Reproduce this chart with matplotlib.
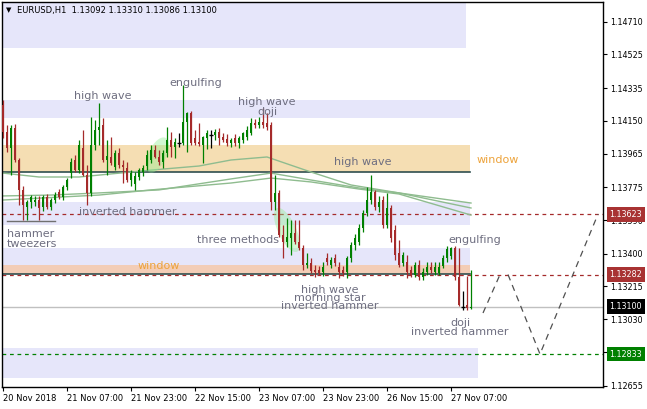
import numpy as np
import matplotlib.pyplot as plt
import matplotlib.transforms as mtransforms
from matplotlib.patches import Polygon

# --- candles (EURUSD H1) ---
opens = [1.14240, 1.14087, 1.13997, 1.14110, 1.13929, 1.13760, 1.13663, 1.13692, 1.13692, 1.13703,
         1.13663, 1.13720, 1.13663, 1.13703, 1.13748, 1.13720, 1.13776, 1.13855, 1.13929, 1.13872,
         1.13997, 1.13844, 1.13743, 1.14014, 1.14098, 1.14127, 1.13929, 1.13946, 1.13889, 1.13968,
         1.13901, 1.13884, 1.13816, 1.13793, 1.13833, 1.13861, 1.13895, 1.13929, 1.13985, 1.13946,
         1.13918, 1.13968, 1.14042, 1.14002, 1.14025, 1.14025, 1.14144, 1.14194, 1.14053, 1.14031,
         1.14014, 1.14053, 1.14070, 1.14070, 1.14087, 1.14059, 1.14048, 1.14025, 1.14053, 1.14025,
         1.14042, 1.14059, 1.14081, 1.14138, 1.14127, 1.14144, 1.14138, 1.14127, 1.13692, 1.13743,
         1.13505, 1.13466, 1.13488, 1.13517, 1.13466, 1.13432, 1.13336, 1.13347, 1.13308, 1.13308,
         1.13296, 1.13376, 1.13336, 1.13376, 1.13325, 1.13308, 1.13296, 1.13376, 1.13449, 1.13466,
         1.13545, 1.13630, 1.13703, 1.13748, 1.13663, 1.13703, 1.13562, 1.13658, 1.13534, 1.13404,
         1.13347, 1.13353, 1.13308, 1.13280, 1.13336, 1.13268, 1.13296, 1.13325, 1.13296, 1.13291,
         1.13330, 1.13376, 1.13387, 1.13432, 1.13268, 1.13099, 1.13110, 1.13092]
highs = [1.14268, 1.14127, 1.14127, 1.14132, 1.13940, 1.13782, 1.13703, 1.13731, 1.13726, 1.13726,
         1.13731, 1.13737, 1.13714, 1.13748, 1.13765, 1.13788, 1.13827, 1.13940, 1.13957, 1.14042,
         1.14098, 1.13901, 1.14172, 1.14155, 1.14251, 1.14166, 1.14042, 1.14059, 1.13985, 1.13997,
         1.13929, 1.13918, 1.13872, 1.13861, 1.13884, 1.13901, 1.13985, 1.14014, 1.14014, 1.13985,
         1.13985, 1.14115, 1.14087, 1.14053, 1.14081, 1.14353, 1.14200, 1.14206, 1.14098, 1.14138,
         1.14065, 1.14098, 1.14098, 1.14104, 1.14110, 1.14081, 1.14076, 1.14053, 1.14076, 1.14065,
         1.14087, 1.14121, 1.14166, 1.14161, 1.14172, 1.14223, 1.14194, 1.14144, 1.13844, 1.13760,
         1.13562, 1.13602, 1.13590, 1.13590, 1.13590, 1.13449, 1.13404, 1.13376, 1.13336, 1.13330,
         1.13353, 1.13404, 1.13381, 1.13398, 1.13353, 1.13330, 1.13387, 1.13466, 1.13511, 1.13568,
         1.13647, 1.13776, 1.13844, 1.13760, 1.13726, 1.13726, 1.13743, 1.13675, 1.13562, 1.13477,
         1.13409, 1.13393, 1.13330, 1.13353, 1.13364, 1.13319, 1.13353, 1.13353, 1.13353, 1.13353,
         1.13393, 1.13443, 1.13438, 1.13443, 1.13432, 1.13189, 1.13274, 1.13310]
lows = [1.14053, 1.13974, 1.13844, 1.13918, 1.13675, 1.13590, 1.13590, 1.13658, 1.13669, 1.13590,
        1.13641, 1.13652, 1.13647, 1.13686, 1.13709, 1.13703, 1.13760, 1.13827, 1.13861, 1.13855,
        1.13839, 1.13675, 1.13726, 1.13985, 1.14014, 1.13918, 1.13844, 1.13901, 1.13872, 1.13884,
        1.13799, 1.13805, 1.13782, 1.13760, 1.13816, 1.13839, 1.13872, 1.13912, 1.13940, 1.13901,
        1.13884, 1.13946, 1.13946, 1.13940, 1.14002, 1.14014, 1.13974, 1.14014, 1.14014, 1.14008,
        1.13912, 1.13991, 1.13997, 1.14042, 1.14014, 1.14031, 1.14008, 1.14002, 1.14008, 1.13997,
        1.14025, 1.14042, 1.14070, 1.14110, 1.14110, 1.14110, 1.14098, 1.13647, 1.13647, 1.13494,
        1.13376, 1.13438, 1.13393, 1.13455, 1.13421, 1.13308, 1.13319, 1.13291, 1.13268, 1.13280,
        1.13274, 1.13336, 1.13319, 1.13330, 1.13263, 1.13274, 1.13263, 1.13353, 1.13421, 1.13449,
        1.13522, 1.13613, 1.13680, 1.13647, 1.13635, 1.13545, 1.13545, 1.13466, 1.13364, 1.13325,
        1.13330, 1.13263, 1.13268, 1.13268, 1.13251, 1.13251, 1.13280, 1.13291, 1.13280, 1.13280,
        1.13319, 1.13353, 1.13370, 1.13251, 1.13105, 1.13082, 1.13082, 1.13086]
closes = [1.14087, 1.13997, 1.14110, 1.13929, 1.13760, 1.13675, 1.13692, 1.13720, 1.13703, 1.13658,
          1.13720, 1.13663, 1.13703, 1.13731, 1.13720, 1.13776, 1.13816, 1.13918, 1.13872, 1.14014,
          1.13844, 1.13743, 1.14014, 1.14098, 1.14115, 1.13929, 1.13952, 1.13912, 1.13968, 1.13901,
          1.13889, 1.13816, 1.13855, 1.13839, 1.13872, 1.13884, 1.13957, 1.13985, 1.13946, 1.13918,
          1.13968, 1.14042, 1.14002, 1.14031, 1.14025, 1.14144, 1.14194, 1.14025, 1.14025, 1.14019,
          1.14059, 1.14081, 1.14070, 1.14087, 1.14053, 1.14042, 1.14025, 1.14042, 1.14025, 1.14053,
          1.14081, 1.14098, 1.14138, 1.14127, 1.14144, 1.14127, 1.14115, 1.13692, 1.13743, 1.13505,
          1.13466, 1.13494, 1.13517, 1.13466, 1.13432, 1.13336, 1.13347, 1.13302, 1.13296, 1.13291,
          1.13325, 1.13353, 1.13364, 1.13347, 1.13296, 1.13291, 1.13376, 1.13449, 1.13488, 1.13545,
          1.13630, 1.13703, 1.13748, 1.13663, 1.13692, 1.13562, 1.13658, 1.13488, 1.13393, 1.13336,
          1.13393, 1.13296, 1.13280, 1.13336, 1.13268, 1.13296, 1.13325, 1.13308, 1.13325, 1.13325,
          1.13376, 1.13426, 1.13432, 1.13268, 1.13110, 1.13099, 1.13093, 1.13100]

# moving averages, read at a few bars
ma_bars_a = [0, 9, 19, 37, 49, 57, 66, 77, 87, 99, 117]
ma_a = [1.13855, 1.13833, 1.13833, 1.13872, 1.13895, 1.13929, 1.13946, 1.13861, 1.13788, 1.13743, 1.13686]
ma_bars_b = [0, 12, 24, 39, 57, 67, 77, 89, 99, 117]
ma_b = [1.13726, 1.13731, 1.13743, 1.13760, 1.13822, 1.13855, 1.13816, 1.13771, 1.13743, 1.13658]
ma_bars_c = [0, 24, 37, 57, 67, 77, 89, 99, 117]
ma_c = [1.13703, 1.13731, 1.13760, 1.13799, 1.13827, 1.13805, 1.13765, 1.13737, 1.13618]

# zones (bottom, top, last bar)
lavender_zones = [(1.14561, 1.1490, 115.75), (1.14166, 1.14268, 116.75), (1.13562, 1.13692, 116.75),
                  (1.13336, 1.13432, 116.75), (1.12698, 1.12867, 118.75)]
wheat_zone = (1.13861, 1.14014, 116.75)
window_zone = (1.13285, 1.13336, 116.75)

level_red = [1.13623, 1.13282]
level_green = 1.12833
last_price = 1.13100

proj_bars_1 = [120, 124.25]
proj_prices_1 = [1.13065, 1.13282]
proj_bars_2 = [126.25, 134.25, 148.75]
proj_prices_2 = [1.13282, 1.12833, 1.13623]

date_bars = [0, 16, 32, 48, 64, 80, 96, 112]
date_labels = ['20 Nov 2018', '21 Nov 07:00', '21 Nov 23:00', '22 Nov 15:00',
               '23 Nov 07:00', '23 Nov 23:00', '26 Nov 15:00', '27 Nov 07:00']
price_ticks = [1.12655, 1.12845, 1.13030, 1.13215, 1.13400, 1.13590,
               1.13775, 1.13965, 1.14150, 1.14335, 1.14525, 1.14710]

GREEN = '#008000'
RED = '#A52A2A'
TXT = '#6E6E80'
ORANGE = '#EDA33B'

fig = plt.figure(figsize=(6.47, 4.09), dpi=100)
ax = fig.add_axes([2 / 647, 22 / 409, 601 / 647, 385 / 409])
xmin, xmax = -0.25, 150.0
ymin, ymax = 1.126471, 1.148212
ax.set_xlim(xmin, xmax)
ax.set_ylim(ymin, ymax)

# zones
for lo, hi, end in lavender_zones:
    ax.fill_between([xmin, end], lo, hi, color='#E6E6FA', lw=0, zorder=0.5)
ax.fill_between([xmin, wheat_zone[2]], wheat_zone[0], wheat_zone[1], color='#F5DEB3', lw=0, zorder=0.6)
ax.fill_between([xmin, window_zone[2]], window_zone[0], window_zone[1], color='#F3CDB6', lw=0, zorder=0.6)
ax.plot([xmin, wheat_zone[2]], [wheat_zone[0]] * 2, color='#2F4F4F', lw=1.2, zorder=0.8)
ax.plot([xmin, window_zone[2]], [window_zone[0]] * 2, color='#2F4F4F', lw=1.2, zorder=0.8)

# level lines
for lv in level_red:
    ax.axhline(lv, color=RED, lw=0.9, ls=(0, (3, 3)), zorder=0.9)
ax.axhline(level_green, color=GREEN, lw=0.9, ls=(0, (3, 3)), zorder=0.9)
ax.axhline(last_price, color='#C0C0C0', lw=1, zorder=0.9)

# hammer tweezers line
ax.plot([1, 13], [1.13585, 1.13585], color='#707070', lw=1, zorder=1)

# moving averages
for bx, vals in [(ma_bars_a, ma_a), (ma_bars_b, ma_b), (ma_bars_c, ma_c)]:
    ax.plot(bx, vals, color='#8FBC8F', lw=1, zorder=1.2)

# pattern ellipses (sizes in pixels)
px_bar = 601 / (xmax - xmin)
px_price = 385 / (ymax - ymin)


def ellipse(cx, cy, a, b, ang):
    t = np.linspace(0, 2 * np.pi, 60)
    th = np.radians(ang)
    dx = a * np.cos(t) * np.cos(th) - b * np.sin(t) * np.sin(th)
    dy = a * np.cos(t) * np.sin(th) + b * np.sin(t) * np.cos(th)
    pts = np.column_stack([cx + dx / px_bar, cy + dy / px_price])
    ax.add_patch(Polygon(pts, closed=True, fc='#90EE90', ec='none', alpha=0.4, zorder=1.5))


ellipse(38.6, 1.13957, 9, 19, -25)
ellipse(71.0, 1.13534, 9, 24, 25)

# candles
for i in range(len(closes)):
    o, h, l, c = opens[i], highs[i], lows[i], closes[i]
    col = GREEN if c > o else (RED if c < o else 'black')
    ax.vlines(i, l, h, color=col, lw=0.9, zorder=3)
    if c == o:
        ax.hlines(o, i - 0.4, i + 0.4, color=col, lw=1, zorder=3)
    else:
        ax.bar(i, abs(c - o), bottom=min(o, c), width=0.7, color=col, lw=0, zorder=3)

# projection path
ax.plot(proj_bars_1, proj_prices_1, color='#505050', lw=0.9, ls=(0, (5, 4)), zorder=2)
ax.plot(proj_bars_2, proj_prices_2, color='#505050', lw=0.9, ls=(0, (5, 4)), zorder=2)

# pattern labels
fs = 8
ax.text(25, 1.14290, 'high wave', color=TXT, fontsize=fs, ha='center', va='center', zorder=4)
ax.text(48.25, 1.14364, 'engulfing', color=TXT, fontsize=fs, ha='center', va='center', zorder=4)
ax.text(66, 1.14228, 'high wave\ndoji', color=TXT, fontsize=fs, ha='center', va='center',
        linespacing=0.9, zorder=4)
ax.text(90, 1.13918, 'high wave', color=TXT, fontsize=fs, ha='center', va='center', zorder=4)
ax.text(123.75, 1.13929, 'window', color=ORANGE, fontsize=fs, ha='center', va='center', zorder=4)
ax.text(31.25, 1.13635, 'inverted hammer', color=TXT, fontsize=fs, ha='center', va='center', zorder=4)
ax.text(1, 1.13483, 'hammer\ntweezers', color=TXT, fontsize=fs, ha='left', va='center',
        linespacing=0.9, zorder=4)
ax.text(58.75, 1.13477, 'three methods', color=TXT, fontsize=fs, ha='center', va='center', zorder=4)
ax.text(39, 1.13330, 'window', color=ORANGE, fontsize=fs, ha='center', va='center', zorder=4)
ax.text(118, 1.13477, 'engulfing', color=TXT, fontsize=fs, ha='center', va='center', zorder=4)
ax.text(81.75, 1.13150, 'high wave\nmorning star\ninverted hammer', color=TXT, fontsize=fs,
        ha='center', va='center', linespacing=0.8, zorder=4)
ax.text(114.25, 1.12983, 'doji\ninverted hammer', color=TXT, fontsize=fs, ha='center',
        va='center', linespacing=0.8, zorder=4)

# axes styling
ax.yaxis.tick_right()
ax.set_yticks(price_ticks)
ax.set_yticklabels([f'{p:.5f}' for p in price_ticks])
ax.set_xticks(date_bars)
ax.set_xticklabels(date_labels, ha='left')
ax.tick_params(axis='y', length=3, width=0.8, labelsize=5.8, pad=2, colors='black')
ax.tick_params(axis='x', length=3, width=0.8, labelsize=6, pad=2, colors='black')
for s in ax.spines.values():
    s.set_linewidth(1)
    s.set_color('black')

# price boxes on the scale
trans = mtransforms.blended_transform_factory(ax.transAxes, ax.transData)
for p, fc in [(1.13623, '#A83232'), (1.13282, '#A83232'), (last_price, 'black'), (level_green, GREEN)]:
    ax.text(1.011, p, f'{p:.5f}', transform=trans, color='white', fontsize=5.8, ha='left',
            va='center', clip_on=False, zorder=10,
            bbox=dict(boxstyle='square,pad=0.35', fc=fc, ec='none'))

# header
fig.text(6 / 647, 1 - 10 / 409, '\u25bc', fontsize=5, va='center', color='black')
fig.text(17 / 647, 1 - 10 / 409, 'EURUSD,H1  1.13092 1.13310 1.13086 1.13100',
         fontsize=6, va='center', color='black')

fig.savefig('out.png', dpi=100)
